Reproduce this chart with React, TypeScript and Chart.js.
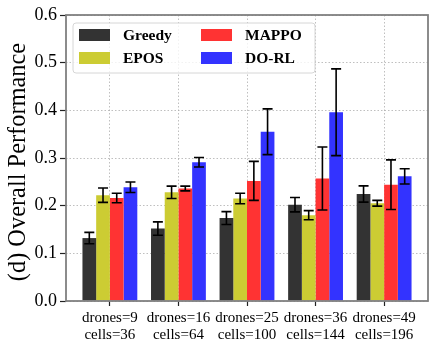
import React, { useEffect, useRef } from 'react';
import { Chart, registerables } from 'chart.js';

Chart.register(...registerables);

const categories: string[][] = [
  ['drones=9', 'cells=36'],
  ['drones=16', 'cells=64'],
  ['drones=25', 'cells=100'],
  ['drones=36', 'cells=144'],
  ['drones=49', 'cells=196'],
];
const seriesNames = ['Greedy', 'EPOS', 'MAPPO', 'DO-RL'];
const seriesColors = ['#333333', '#cccc33', '#ff3333', '#3333ff'];

const greedy = [0.132, 0.152, 0.174, 0.202, 0.2245];
const greedyErr = [0.012, 0.014, 0.0135, 0.015, 0.017];
const epos = [0.222, 0.228, 0.215, 0.18, 0.205];
const eposErr = [0.015, 0.013, 0.011, 0.0095, 0.006];
const mappo = [0.216, 0.236, 0.252, 0.257, 0.244];
const mappoErr = [0.01, 0.005, 0.041, 0.066, 0.052];
const dorl = [0.2385, 0.291, 0.355, 0.396, 0.2615];
const dorlErr = [0.011, 0.01, 0.048, 0.091, 0.016];

const yTicks = [0, 0.1, 0.2, 0.3, 0.4, 0.5, 0.6];
const yTitle = '(d) Overall Performance';

const SERIF = '"Liberation Serif", "Times New Roman", Times, serif';

const errorBarPlugin = {
  id: 'errorBars',
  afterDatasetsDraw(chart: any) {
    const ctx = chart.ctx;
    const ys = chart.scales.y;
    chart.data.datasets.forEach((ds: any, di: number) => {
      const meta = chart.getDatasetMeta(di);
      meta.data.forEach((el: any, i: number) => {
        const v = ds.data[i].y;
        const e = ds.errors[i];
        const x = el.x;
        const top = ys.getPixelForValue(v + e);
        const bot = ys.getPixelForValue(v - e);
        ctx.save();
        ctx.strokeStyle = '#000';
        ctx.lineWidth = 1.6;
        ctx.beginPath();
        ctx.moveTo(x, top);
        ctx.lineTo(x, bot);
        ctx.moveTo(x - 5, top);
        ctx.lineTo(x + 5, top);
        ctx.moveTo(x - 5, bot);
        ctx.lineTo(x + 5, bot);
        ctx.stroke();
        ctx.restore();
      });
    });
  },
};

const framePlugin = {
  id: 'frame',
  afterDatasetsDraw(chart: any) {
    const { ctx, chartArea: a } = chart;
    ctx.save();
    ctx.strokeStyle = '#808080';
    ctx.lineWidth = 1.8;
    ctx.strokeRect(a.left, a.top, a.right - a.left, a.bottom - a.top);
    ctx.restore();
  },
};

const yTitlePlugin = {
  id: 'yTitle',
  afterDraw(chart: any) {
    const { ctx, chartArea: a } = chart;
    ctx.save();
    ctx.translate(19, (a.top + a.bottom) / 2 + 4);
    ctx.rotate(-Math.PI / 2);
    ctx.font = `24.4px ${SERIF}`;
    ctx.fillStyle = '#000';
    ctx.textAlign = 'center';
    ctx.textBaseline = 'middle';
    ctx.fillText(yTitle, 0, 0);
    ctx.restore();
  },
};

const legendPlugin = {
  id: 'customLegend',
  afterDraw(chart: any) {
    const { ctx, chartArea: a } = chart;
    const left = a.left + 7;
    const top = a.top + 8;
    const w = 242;
    const h = 50;
    ctx.save();
    ctx.beginPath();
    const r = 3;
    ctx.moveTo(left + r, top);
    ctx.lineTo(left + w - r, top);
    ctx.quadraticCurveTo(left + w, top, left + w, top + r);
    ctx.lineTo(left + w, top + h - r);
    ctx.quadraticCurveTo(left + w, top + h, left + w - r, top + h);
    ctx.lineTo(left + r, top + h);
    ctx.quadraticCurveTo(left, top + h, left, top + h - r);
    ctx.lineTo(left, top + r);
    ctx.quadraticCurveTo(left, top, left + r, top);
    ctx.closePath();
    ctx.fillStyle = 'rgba(255,255,255,0.8)';
    ctx.fill();
    ctx.strokeStyle = '#d6d6d6';
    ctx.lineWidth = 1;
    ctx.stroke();
    const colX = [left + 6, left + 128];
    const rowY = [top + 12, top + 35];
    chart.data.datasets.forEach((ds: any, i: number) => {
      const col = Math.floor(i / 2);
      const row = i % 2;
      const sx = colX[col];
      const cy = rowY[row];
      ctx.fillStyle = ds.backgroundColor;
      ctx.fillRect(sx, cy - 6, 31, 12);
      ctx.fillStyle = '#000';
      ctx.font = `bold 15.5px ${SERIF}`;
      ctx.textBaseline = 'middle';
      ctx.textAlign = 'left';
      ctx.fillText(ds.label, sx + 44, cy + 1);
    });
    ctx.restore();
  },
};

export default function App() {
  const ref = useRef<HTMLCanvasElement | null>(null);

  useEffect(() => {
    if (!ref.current) return;
    const values = [greedy, epos, mappo, dorl];
    const errs = [greedyErr, eposErr, mappoErr, dorlErr];
    const chart = new Chart(ref.current, {
      type: 'bar',
      data: {
        datasets: seriesNames.map((name, si) => ({
          label: name,
          data: categories.map((_, i) => ({ x: i, y: values[si][i] })),
          errors: errs[si],
          backgroundColor: seriesColors[si],
          borderWidth: 0,
          categoryPercentage: 0.8,
          barPercentage: 1,
        })) as any,
      },
      options: {
        responsive: false,
        maintainAspectRatio: false,
        devicePixelRatio: 1,
        animation: false,
        layout: { padding: { top: 15, right: 8, left: 0, bottom: 0 } },
        plugins: {
          legend: { display: false },
          tooltip: { enabled: false },
        },
        scales: {
          x: {
            type: 'linear',
            min: -0.64,
            max: 4.64,
            offset: false,
            afterBuildTicks: (s: any) => {
              s.ticks = categories.map((_, i) => ({ value: i }));
            },
            afterFit: (s: any) => {
              s.height = 48;
            },
            ticks: {
              autoSkip: false,
              maxRotation: 0,
              minRotation: 0,
              padding: 3,
              color: '#000',
              font: { family: SERIF, size: 15, lineHeight: 1.17 },
              callback: (v: any) => categories[Math.round(Number(v))] ?? '',
            },
            grid: {
              color: 'rgba(170,170,170,0.75)',
              lineWidth: 1,
              drawTicks: true,
              tickLength: 5,
              tickColor: '#222',
              tickWidth: 1.2,
              tickBorderDash: [],
              offset: false,
            },
            border: { display: false, dash: [1.5, 2] },
          },
          y: {
            min: 0,
            max: 0.6,
            afterBuildTicks: (s: any) => {
              s.ticks = yTicks.map((v) => ({ value: v }));
            },
            afterFit: (s: any) => {
              s.width = 66;
            },
            ticks: {
              padding: 3,
              color: '#000',
              font: { family: SERIF, size: 18 },
              callback: (v: any) => Number(v).toFixed(1),
            },
            grid: {
              color: 'rgba(170,170,170,0.75)',
              lineWidth: 1,
              drawTicks: true,
              tickLength: 6,
              tickColor: '#222',
              tickWidth: 1.2,
              tickBorderDash: [],
            },
            border: { display: false, dash: [1.5, 2] },
          },
        },
      },
      plugins: [errorBarPlugin, framePlugin, legendPlugin, yTitlePlugin],
    } as any);
    return () => chart.destroy();
  }, []);

  return (
    <div style={{ position: 'absolute', left: 0, top: 0, width: 436, height: 349, background: '#fff' }}>
      <canvas ref={ref} width={436} height={349} style={{ display: 'block' }} />
    </div>
  );
}
